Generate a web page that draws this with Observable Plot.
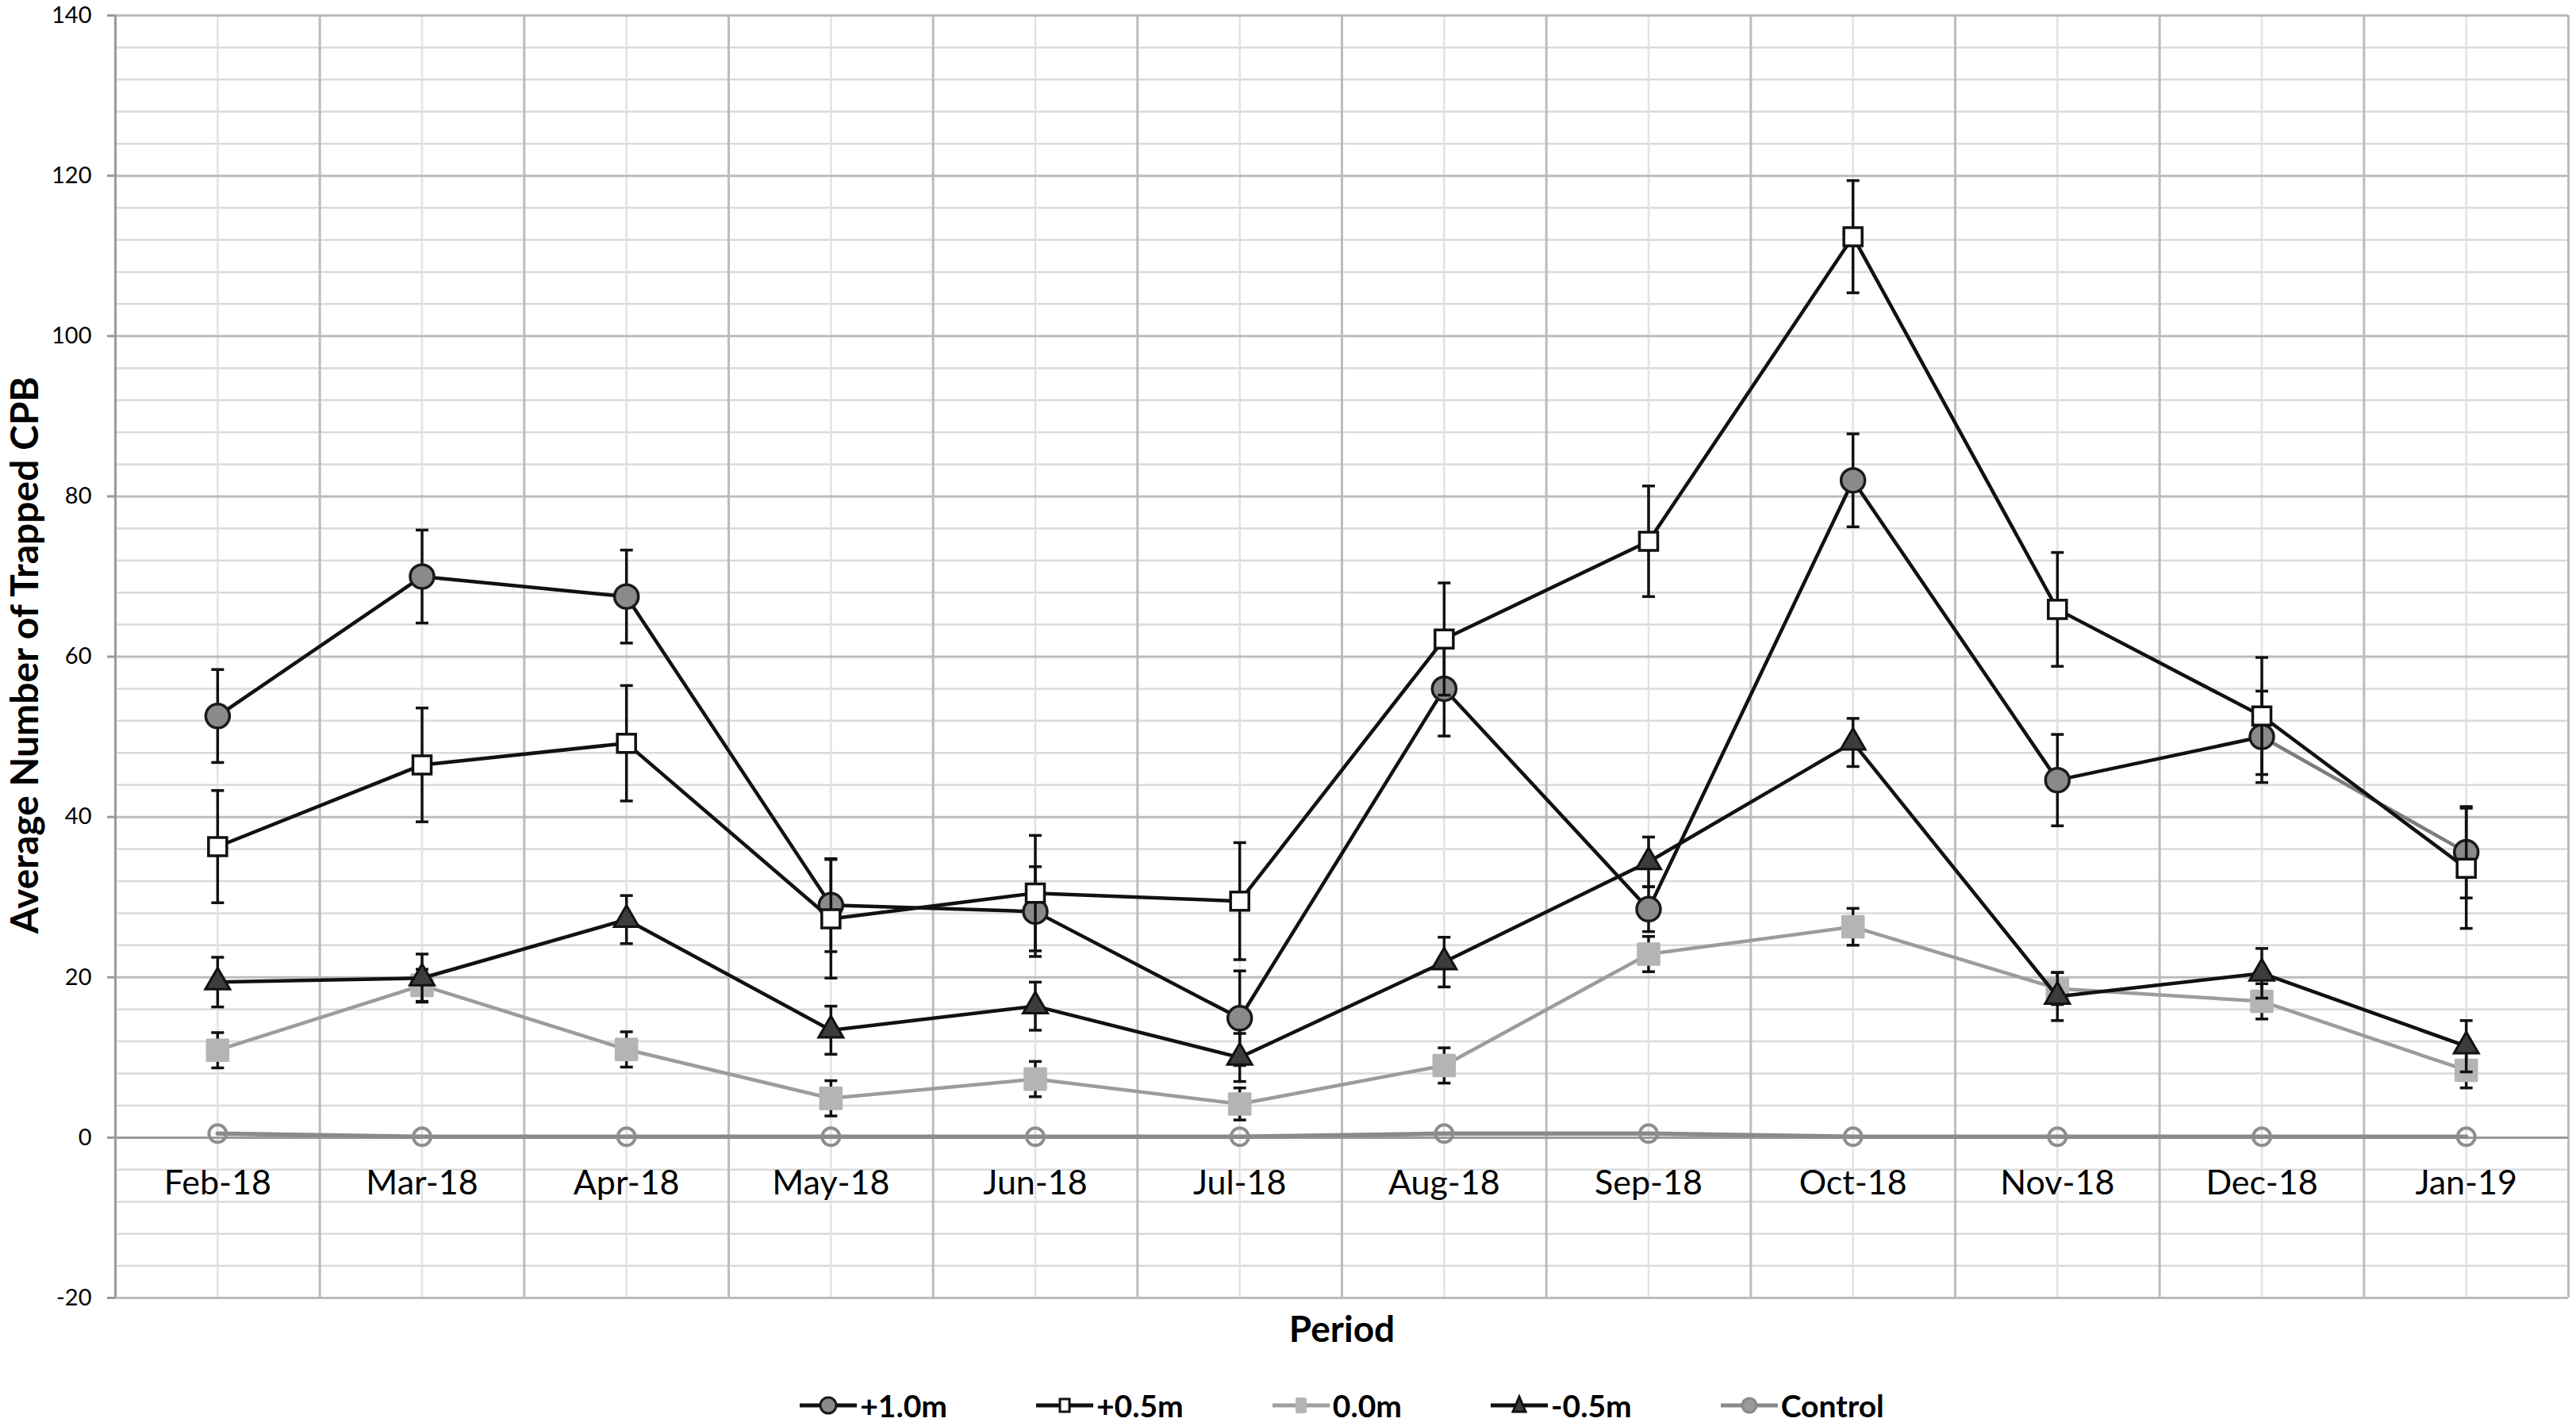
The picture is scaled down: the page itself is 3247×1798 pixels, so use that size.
<!DOCTYPE html>
<html>
<head>
<meta charset="utf-8">
<script src="https://cdn.jsdelivr.net/npm/d3@7"></script>
<script src="https://cdn.jsdelivr.net/npm/@observablehq/plot@0.6"></script>
<style>
  html, body { margin: 0; padding: 0; background: #fff; }
  body { width: 3247px; height: 1798px; overflow: hidden; font-family: Lato, "Open Sans", sans-serif; }
  #legend { display: flex; justify-content: center; align-items: center; gap: 112px;
            padding-left: 136px; padding-top: 26px; height: 78px; box-sizing: border-box;
            font-size: 39px; font-weight: bold; color: #000; }
  .item { display: flex; align-items: center; gap: 4px; }
  .item svg { display: block; }
</style>
</head>
<body>
<div id="chart"></div>
<div id="legend"></div>
<script>
// ---- data ----
const months = ["Feb-18","Mar-18","Apr-18","May-18","Jun-18","Jul-18","Aug-18","Sep-18","Oct-18","Nov-18","Dec-18","Jan-19"];

const p10     = [52.6, 70.0, 67.5, 29.0, 28.2, 14.9, 56.0, 28.5, 82.0, 44.6, 50.0, 35.6];
const p10Err  = [5.8, 5.8, 5.8, 5.8, 5.6, 5.9, 5.9, 2.8, 5.8, 5.7, 5.7, 5.7];

const p05     = [36.3, 46.5, 49.2, 27.3, 30.5, 29.5, 62.2, 74.4, 112.4, 65.9, 52.6, 33.6];
const p05Err  = [7.0, 7.1, 7.2, 7.4, 7.2, 7.3, 7.0, 6.9, 7.0, 7.1, 7.3, 7.5];

const p00     = [10.9, 19.0, 11.0, 4.9, 7.3, 4.2, 9.0, 22.9, 26.3, 18.6, 17.0, 8.4];
const p00Err  = [2.2, 2.0, 2.2, 2.2, 2.2, 2.0, 2.2, 2.2, 2.3, 2.0, 2.2, 2.2];

const m05     = [19.4, 19.9, 27.2, 13.4, 16.4, 10.0, 21.9, 34.4, 49.3, 17.6, 20.5, 11.4];
const m05Err  = [3.1, 3.0, 3.0, 3.0, 3.0, 3.0, 3.1, 3.1, 3.0, 3.0, 3.1, 3.2];

const control    = [0.5, 0.1, 0.1, 0.1, 0.1, 0.1, 0.5, 0.5, 0.1, 0.1, 0.1, 0.1];
const controlErr = [0.3, 0, 0, 0, 0, 0, 0.3, 0.3, 0, 0, 0, 0];

const seriesNames = ["+1.0m", "+0.5m", "0.0m", "-0.5m", "Control"];
const yTicks = [-20, 0, 20, 40, 60, 80, 100, 120, 140];
const yLabel = "Average Number of Trapped CPB";
const xLabel = "Period";

// ---- table built from the arrays ----
function rows(values, errs) {
  return values.map((v, i) => ({ x: i + 0.5, month: months[i], v, lo: v - errs[i], hi: v + errs[i] }));
}
const R10 = rows(p10, p10Err), R05 = rows(p05, p05Err), R00 = rows(p00, p00Err),
      RM05 = rows(m05, m05Err), RC = rows(control, controlErr);

const majorY = d3.range(-20, 141, 20);
const minorY = d3.range(-20, 141, 4).filter(d => d % 20 !== 0);
const boundaries = d3.range(0, months.length + 1);
const centers = months.map((d, i) => i + 0.5);

const cap = { draw(ctx, size) { const r = Math.sqrt(size / Math.PI); ctx.moveTo(-r, 0); ctx.lineTo(r, 0); } };

function errorMarks(R) {
  return [
    Plot.ruleX(R, { x: "x", y1: "lo", y2: "hi", stroke: "#111", strokeWidth: 3.5 }),
    Plot.dot(R, { x: "x", y: "lo", symbol: cap, r: 8, fill: "none", stroke: "#111", strokeWidth: 3.5 }),
    Plot.dot(R, { x: "x", y: "hi", symbol: cap, r: 8, fill: "none", stroke: "#111", strokeWidth: 3.5 })
  ];
}

const chart = Plot.plot({
  width: 3247,
  height: 1720,
  marginTop: 19,
  marginLeft: 145,
  marginRight: 10,
  marginBottom: 84,
  style: { fontFamily: "Lato, 'Open Sans', sans-serif", background: "#fff", color: "#000", overflow: "visible" },
  x: { type: "linear", domain: [0, months.length], axis: null },
  y: { domain: [-20, 140], axis: null },
  marks: [
    // grid
    Plot.gridY(minorY, { stroke: "#dadada", strokeOpacity: 1, strokeWidth: 2.5 }),
    Plot.gridX(centers, { stroke: "#e2e2e2", strokeOpacity: 1, strokeWidth: 2.5 }),
    Plot.gridY(majorY, { stroke: "#bcbcbc", strokeOpacity: 1, strokeWidth: 3 }),
    Plot.gridX(boundaries, { stroke: "#bcbcbc", strokeOpacity: 1, strokeWidth: 3 }),
    Plot.ruleX([0], { stroke: "#9a9a9a", strokeWidth: 3 }),
    Plot.ruleY([0], { stroke: "#9a9a9a", strokeWidth: 3 }),
    // y axis
    Plot.axisY(yTicks, { tickSize: 10, tickPadding: 20, fontSize: 29, stroke: "#9a9a9a", strokeWidth: 3,
                         tickFormat: d => String(d), label: null }),
    Plot.text([yLabel], { frameAnchor: "left", textAnchor: "middle", rotate: -90, dx: -113, dy: -2,
                          fontSize: 48, fontWeight: "bold", fill: "#000" }),
    // x tick labels, sitting just below the zero line
    Plot.text(months, { x: (d, i) => i + 0.5, y: () => 0, dy: 58, fontSize: 43, fill: "#000", lineAnchor: "middle" }),
    Plot.text([xLabel], { frameAnchor: "bottom", dy: 41, fontSize: 46, fontWeight: "bold", fill: "#000", lineAnchor: "middle" }),

    // +1.0m
    ...errorMarks(R10),
    Plot.line(R10.slice(0, 11), { x: "x", y: "v", stroke: "#111", strokeWidth: 4.5 }),
    Plot.line(R10.slice(10), { x: "x", y: "v", stroke: "#7c7c7c", strokeWidth: 4.5 }),
    Plot.dot(R10, { x: "x", y: "v", symbol: "circle", r: 15, fill: "#8a8a8a", stroke: "#1a1a1a", strokeWidth: 3.5 }),

    // +0.5m
    ...errorMarks(R05),
    Plot.line(R05, { x: "x", y: "v", stroke: "#111", strokeWidth: 4.5 }),
    Plot.dot(R05, { x: "x", y: "v", symbol: "square", r: 13, fill: "#fff", stroke: "#111", strokeWidth: 3.5 }),

    // 0.0m
    ...errorMarks(R00),
    Plot.line(R00, { x: "x", y: "v", stroke: "#9c9c9c", strokeWidth: 4.5 }),
    Plot.dot(R00, { x: "x", y: "v", symbol: "square", r: 15, fill: "#b4b4b4", stroke: "#b4b4b4", strokeWidth: 3, strokeLinejoin: "round" }),

    // -0.5m
    ...errorMarks(RM05),
    Plot.line(RM05, { x: "x", y: "v", stroke: "#111", strokeWidth: 4.5 }),
    Plot.dot(RM05, { x: "x", y: "v", symbol: "triangle", r: 11.5, fill: "#3c3c3c", stroke: "#111", strokeWidth: 3 }),

    // Control
    Plot.line(RC, { x: "x", y: "v", stroke: "#8a8a8a", strokeWidth: 5.5 }),
    Plot.dot(RC, { x: "x", y: "v", symbol: "circle", r: 11, fill: "none", stroke: "#8e8e8e", strokeWidth: 4 })
  ]
});
document.getElementById("chart").appendChild(chart);

// ---- legend ----
const legendStyles = {
  "+1.0m":   { line: "#111", marker: `<circle cx="36" cy="20" r="10" fill="#8a8a8a" stroke="#1a1a1a" stroke-width="3"/>` },
  "+0.5m":   { line: "#111", marker: `<rect x="30" y="12" width="12" height="16" fill="#fff" stroke="#111" stroke-width="3"/>` },
  "0.0m":    { line: "#a0a0a0", marker: `<rect x="29" y="10" width="14" height="20" rx="3" fill="#b4b4b4"/>` },
  "-0.5m":   { line: "#111", marker: `<path d="M36,9 L44,28 L28,28 Z" fill="#3c3c3c" stroke="#111" stroke-width="3"/>` },
  "Control": { line: "#8a8a8a", marker: `<circle cx="36" cy="20" r="9" fill="#9a9a9a" stroke="#8a8a8a" stroke-width="3"/>` }
};
const legend = document.getElementById("legend");
for (const name of seriesNames) {
  const s = legendStyles[name];
  const item = document.createElement("div");
  item.className = "item";
  item.innerHTML = `<svg width="72" height="40" viewBox="0 0 72 40"><line x1="0" y1="20" x2="72" y2="20" stroke="${s.line}" stroke-width="5"/>${s.marker}</svg><span>${name}</span>`;
  legend.appendChild(item);
}
</script>
</body>
</html>
